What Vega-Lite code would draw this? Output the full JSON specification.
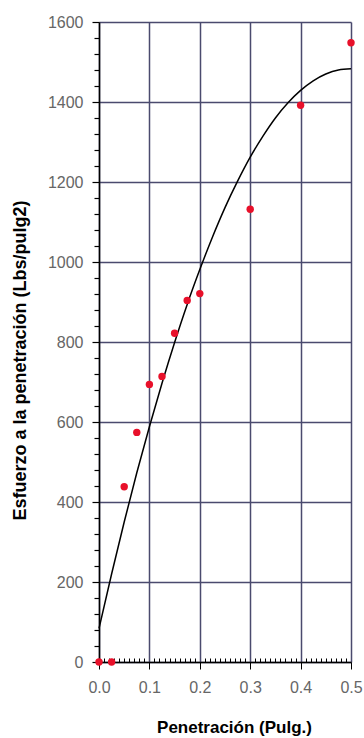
{
  "$schema": "https://vega.github.io/schema/vega-lite/v6.json",
  "width": 252,
  "height": 640,
  "autosize": "none",
  "padding": {"left": 99, "top": 22, "right": 13, "bottom": 76},
  "background": "white",
  "config": {"view": {"stroke": null}},
  "datasets": {
    "puntos": [
      {"pen": 0.0, "esf": 0},
      {"pen": 0.025, "esf": 0},
      {"pen": 0.05, "esf": 438},
      {"pen": 0.075, "esf": 574},
      {"pen": 0.1, "esf": 694},
      {"pen": 0.125, "esf": 714},
      {"pen": 0.15, "esf": 822},
      {"pen": 0.175, "esf": 904},
      {"pen": 0.2, "esf": 921},
      {"pen": 0.3, "esf": 1132},
      {"pen": 0.4, "esf": 1392},
      {"pen": 0.5, "esf": 1548}
    ],
    "curva": [
      {"pen": 0.0, "esf": 84},
      {"pen": 0.025, "esf": 220},
      {"pen": 0.05, "esf": 350},
      {"pen": 0.075, "esf": 473},
      {"pen": 0.1, "esf": 588},
      {"pen": 0.125, "esf": 697},
      {"pen": 0.15, "esf": 799},
      {"pen": 0.175, "esf": 894},
      {"pen": 0.2, "esf": 981},
      {"pen": 0.225, "esf": 1062},
      {"pen": 0.25, "esf": 1136},
      {"pen": 0.275, "esf": 1202},
      {"pen": 0.3, "esf": 1262},
      {"pen": 0.325, "esf": 1314},
      {"pen": 0.35, "esf": 1360},
      {"pen": 0.375, "esf": 1398},
      {"pen": 0.4, "esf": 1429},
      {"pen": 0.425, "esf": 1453},
      {"pen": 0.45, "esf": 1470},
      {"pen": 0.475, "esf": 1480},
      {"pen": 0.5, "esf": 1483}
    ]
  },
  "layer": [
    {
      "data": {"name": "curva"},
      "mark": {"type": "line", "color": "black", "strokeWidth": 1.5, "interpolate": "monotone"},
      "encoding": {
        "x": {
          "field": "pen", "type": "quantitative",
          "scale": {"domain": [0, 0.5], "nice": false},
          "axis": {
            "title": "Penetración (Pulg.)",
            "tickCount": 200,
            "values": [0,0.01,0.02,0.03,0.04,0.05,0.06,0.07,0.08,0.09,0.1,0.11,0.12,0.13,0.14,0.15,0.16,0.17,0.18,0.19,0.2,0.21,0.22,0.23,0.24,0.25,0.26,0.27,0.28,0.29,0.3,0.31,0.32,0.33,0.34,0.35,0.36,0.37,0.38,0.39,0.4,0.41,0.42,0.43,0.44,0.45,0.46,0.47,0.48,0.49,0.5],
            "format": ".1f",
            "labelExpr": "round(datum.value*100) % 10 === 0 ? datum.label : ''",
            "grid": true,
            "gridColor": "#4a4a6e",
            "gridWidth": 1.5,
            "gridOpacity": {"condition": {"test": "round(datum.value*100) % 10 === 0", "value": 1}, "value": 0},
            "tickSize": {"condition": {"test": "round(datum.value*100) % 10 === 0", "value": 7}, "value": -4},
            "tickColor": "black",
            "tickWidth": 1,
            "domainColor": "black",
            "domainWidth": 1.5,
            "labelFont": "Liberation Sans",
            "labelFontSize": 16,
            "labelColor": "#666666",
            "labelPadding": 10,
            "labelFlush": false,
            "labelOverlap": false,
            "titleFont": "Liberation Sans",
            "titleFontSize": 17,
            "titleFontWeight": "bold",
            "titleColor": "black",
            "titleX": 135,
            "titlePadding": 24
          }
        },
        "y": {
          "field": "esf", "type": "quantitative",
          "scale": {"domain": [0, 1600], "nice": false},
          "axis": {
            "title": "Esfuerzo a la penetración (Lbs/pulg2)",
            "tickCount": 200,
            "values": [0,40,80,120,160,200,240,280,320,360,400,440,480,520,560,600,640,680,720,760,800,840,880,920,960,1000,1040,1080,1120,1160,1200,1240,1280,1320,1360,1400,1440,1480,1520,1560,1600],
            "labelExpr": "datum.value % 200 === 0 ? datum.label : ''",
            "format": "d",
            "grid": true,
            "gridColor": "#4a4a6e",
            "gridWidth": 1.5,
            "gridOpacity": {"condition": {"test": "datum.value % 200 === 0", "value": 1}, "value": 0},
            "tickSize": {"condition": {"test": "datum.value % 200 === 0", "value": 7}, "value": 5},
            "tickColor": "black",
            "tickWidth": 1.2,
            "domainColor": "black",
            "domainWidth": 1.5,
            "labelFont": "Liberation Sans",
            "labelFontSize": 16,
            "labelColor": "#666666",
            "labelPadding": 9,
            "labelFlush": false,
            "labelOverlap": false,
            "titleFont": "Liberation Sans",
            "titleFontSize": 18,
            "titleFontWeight": "bold",
            "titleColor": "black",
            "titleY": 338,
            "titlePadding": 18
          }
        }
      }
    },
    {
      "data": {"name": "puntos"},
      "mark": {"type": "point", "filled": true, "color": "#e8102a", "size": 55, "opacity": 1, "clip": false},
      "encoding": {
        "x": {"field": "pen", "type": "quantitative"},
        "y": {"field": "esf", "type": "quantitative"}
      }
    }
  ]
}
